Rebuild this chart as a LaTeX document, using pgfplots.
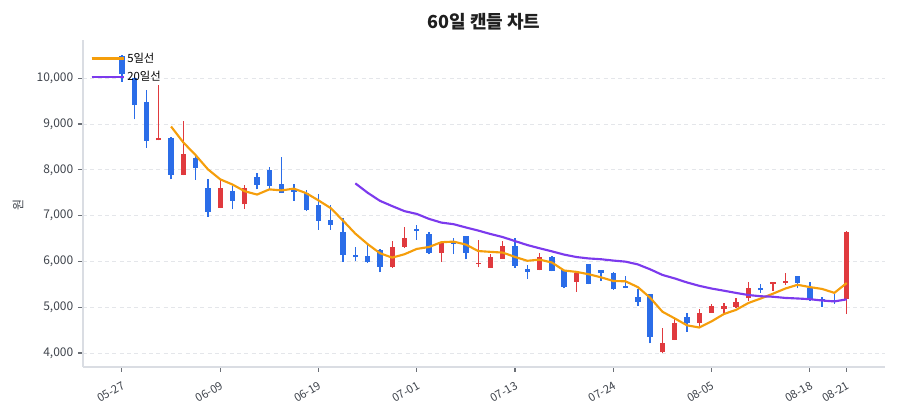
\documentclass[border=0pt]{standalone}
\usepackage{fontspec}
\setmainfont{Noto Sans CJK KR}
\usepackage{pgfplots}
\usepackage{pgfplotstable}
\pgfplotsset{compat=1.18}

\definecolor{upred}{HTML}{E03A3E}
\definecolor{downblue}{HTML}{2B6DE8}
\definecolor{ma5}{HTML}{F59E0B}
\definecolor{ma20}{HTML}{7C3AED}
\definecolor{axisgray}{HTML}{DADDE3}
\definecolor{gridgray}{HTML}{E4E6EA}
\definecolor{tickgray}{HTML}{6B6F76}
\definecolor{labelgray}{HTML}{3F444C}

% candles: x, open, high, low, close
\pgfplotstableread{
x o h l c
3 8640 9850 8640 8700
5 7890 9070 7880 8345
8 7170 7790 7165 7610
10 7245 7670 7150 7610
22 5870 6445 5865 6315
23 6315 6740 6300 6510
26 6190 6420 5990 6410
29 5940 6470 5870 5965
30 5865 6160 5860 6100
31 6055 6450 6050 6330
34 5810 6175 5805 6090
37 5555 5800 5340 5755
44 4015 4550 4000 4225
45 4285 4760 4280 4660
47 4660 4955 4550 4880
48 4880 5060 4875 5025
49 4955 5085 4880 5025
50 5000 5195 4990 5120
51 5195 5550 5135 5410
53 5505 5560 5360 5555
54 5535 5755 5485 5580
59 5180 6660 4850 6650
}\upT

\pgfplotstableread{
x o h l c
0 10485 10500 9925 10090
1 10000 10020 9100 9410
2 9490 9740 8480 8635
4 8700 8710 7790 7890
6 8265 8300 7780 8030
7 7610 7790 6975 7085
9 7540 7650 7135 7320
11 7850 7925 7570 7670
12 8000 8070 7570 7650
13 7680 8270 7490 7500
14 7560 7700 7320 7510
15 7500 7560 7100 7120
16 7230 7470 6690 6880
17 6900 7230 6690 6800
18 6635 6940 5990 6140
19 6150 6320 6015 6090
20 6120 6360 5960 5980
21 6250 6270 5760 5885
24 6710 6795 6470 6670
25 6600 6650 6155 6190
27 6450 6505 6160 6375
28 6555 6560 6045 6190
32 6335 6500 5860 5900
33 5830 5920 5610 5770
35 6100 6110 5780 5790
36 5810 5820 5410 5450
38 5935 5945 5500 5510
39 5810 5820 5570 5755
40 5750 5760 5385 5390
41 5460 5690 5410 5415
42 5215 5390 5025 5120
43 5280 5290 4210 4355
46 4780 4880 4465 4660
52 5410 5500 5315 5365
55 5680 5685 5410 5535
56 5410 5550 5135 5160
57 5185 5215 5010 5160
58 5155 5290 5070 5130
}\downT

\pgfplotstableread{
x y
4 8945
5 8596
6 8320
7 8010
8 7792
9 7678
10 7531
11 7459
12 7572
13 7550
14 7588
15 7490
16 7332
17 7162
18 6890
19 6606
20 6378
21 6179
22 6082
23 6156
24 6272
25 6314
26 6419
27 6431
28 6367
29 6226
30 6208
31 6192
32 6097
33 6013
34 6038
35 5976
36 5800
37 5771
38 5719
39 5652
40 5572
41 5565
42 5438
43 5207
44 4901
45 4755
46 4604
47 4556
48 4690
49 4850
50 4942
51 5092
52 5189
53 5295
54 5406
55 5489
56 5439
57 5398
58 5313
59 5527
}\maFive

\pgfplotstableread{
x y
19 7704
20 7499
21 7323
22 7207
23 7097
24 7036
25 6928
26 6847
27 6812
28 6741
29 6673
30 6598
31 6531
32 6443
33 6357
34 6286
35 6219
36 6148
37 6095
38 6064
39 6047
40 6018
41 5994
42 5934
43 5827
44 5704
45 5628
46 5540
47 5466
48 5407
49 5360
50 5311
51 5265
52 5239
53 5228
54 5202
55 5190
56 5175
57 5145
58 5126
59 5171
}\maTwenty

\begin{document}
\begin{tikzpicture}
\useasboundingbox (-62.25pt,-39.75pt) rectangle (612.75pt,275.25pt);
\begin{axis}[
    at={(0,0)}, anchor=south west,
    scale only axis,
    width=601.5pt, height=245.25pt,
    xmin=-3.17, xmax=62.12,
    ymin=3694, ymax=10834,
    axis x line*=bottom, axis y line*=left,
    axis line style={draw=axisgray, line width=1.3pt},
    xtick={0,8,16,24,32,40,48,56,59},
    xticklabels={05-27,06-09,06-19,07-01,07-13,07-24,08-05,08-18,08-21},
    ytick={4000,5000,6000,7000,8000,9000,10000},
    scaled y ticks=false,
    /pgf/number format/.cd, 1000 sep={,}, assume math mode=true, /pgfplots/.cd,
    tick align=outside,
    major tick length=3.75pt,
    tick style={draw=tickgray, line width=0.8pt},
    yticklabel style={font=\fontsize{9}{10}\selectfont, text=labelgray},
    xticklabel style={font=\fontsize{8.5}{10}\selectfont, text=labelgray,
        rotate=30, anchor=north east, yshift=-2pt},
    ymajorgrids,
    grid style={draw=gridgray, dash pattern=on 3pt off 2.5pt, line width=0.6pt},
    ylabel={원},
    ylabel style={at={(axis description cs:-0.081,0.495)}, anchor=center, font=\fontsize{9}{10}\selectfont, text=labelgray},
    legend style={at={(axis description cs:0.004,0.978)}, anchor=north west,
        draw=none, fill=none, font=\fontsize{8.5}{10}\selectfont, row sep=1.5pt},
    legend cell align=left,
    legend image code/.code={\draw[#1, line width=1.6pt] (0pt,0pt) -- (19pt,0pt);
        \path (0pt,0pt) -- (24pt,0pt);},
]
% wicks
\addplot[forget plot, draw=none, no markers,
    error bars/.cd, y dir=plus, y explicit, error mark=none,
    error bar style={draw=upred, line width=1pt}]
    table[x=x, y=l, y error expr=\thisrow{h}-\thisrow{l}] {\upT};
\addplot[forget plot, draw=none, no markers,
    error bars/.cd, y dir=plus, y explicit, error mark=none,
    error bar style={draw=downblue, line width=1pt}]
    table[x=x, y=l, y error expr=\thisrow{h}-\thisrow{l}] {\downT};
% bodies
\addplot[forget plot, draw=none, no markers,
    error bars/.cd, y dir=plus, y explicit, error mark=none,
    error bar style={draw=upred, line width=4pt}]
    table[x=x, y=o, y error expr=\thisrow{c}-\thisrow{o}] {\upT};
\addplot[forget plot, draw=none, no markers,
    error bars/.cd, y dir=plus, y explicit, error mark=none,
    error bar style={draw=downblue, line width=4pt}]
    table[x=x, y=c, y error expr=\thisrow{o}-\thisrow{c}] {\downT};
% moving averages
\addplot[ma5, line width=1.6pt, line join=round] table[x=x, y=y] {\maFive};
\addlegendentry{5일선}
\addplot[ma20, line width=1.6pt, line join=round] table[x=x, y=y] {\maTwenty};
\addlegendentry{20일선}
\end{axis}
\node[font=\bfseries\fontsize{13.5}{16}\selectfont, text=black!88] at (300.75pt,258.75pt) {60일 캔들 차트};
\end{tikzpicture}
\end{document}
